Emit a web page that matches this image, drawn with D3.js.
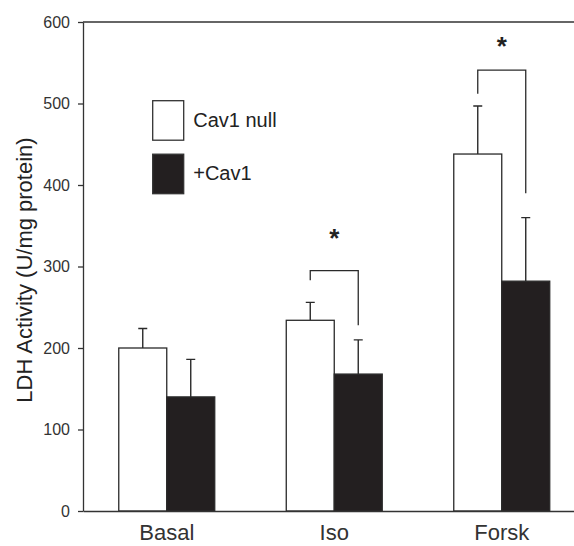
<!DOCTYPE html>
<html>
<head>
<meta charset="utf-8">
<script src="https://cdn.jsdelivr.net/npm/d3@7"></script>
<style>
	body { margin: 0; background: #fff; }
	svg { display: block; font-family: "Liberation Sans", Arial, sans-serif; }
	.axis path, .axis line { stroke: #333; stroke-width: 1.3; }
	.axis text { fill: #333; }
</style>
</head>
<body>
<div id="chart"></div>
<script>
// chart values
const categories = ["Basal", "Iso", "Forsk"];
const seriesNames = ["Cav1 null", "+Cav1"];
const nullMeans = [200, 234, 438];
const nullErrors = [24, 22, 59];
const cavMeans = [140, 168, 282];
const cavErrors = [46, 42, 78];
const yTicks = [0, 100, 200, 300, 400, 500, 600];

// significance brackets (values in U/mg protein)
const sigCategories = ["Iso", "Forsk"];
const bracketTop = [295, 541];
const bracketLeftEnd = [283, 512];
const bracketRightEnd = [228, 390];
const starLevel = [324, 559];

class LdhBars {
	constructor(parentElement) {
		this.parentElement = parentElement;
		this.initVis();
	}

	initVis() {
		let vis = this;

		vis.margin = {top: 22, right: 0, bottom: 35, left: 83};
		vis.svgWidth = 574;
		vis.svgHeight = 546;
		vis.height = vis.svgHeight - vis.margin.top - vis.margin.bottom;
		vis.width = 502.5;

		vis.svg = d3.select("#" + vis.parentElement).append("svg")
			.attr("width", vis.svgWidth)
			.attr("height", vis.svgHeight)
			.append("g")
			.attr("transform", "translate(" + vis.margin.left + "," + vis.margin.top + ")");

		// scales
		vis.x = d3.scaleBand()
			.domain(categories)
			.range([0, vis.width])
			.paddingInner(0.427)
			.paddingOuter(0.2135);
		vis.xInner = d3.scaleBand()
			.domain(seriesNames)
			.range([0, vis.x.bandwidth()]);
		vis.y = d3.scaleLinear()
			.domain([0, 600])
			.range([vis.height, 0]);

		vis.updateVis();
	}

	updateVis() {
		let vis = this;

		let rows = categories.map((c, i) => ({
			cat: c,
			bars: [
				{name: seriesNames[0], mean: nullMeans[i], err: nullErrors[i], fill: "#fff"},
				{name: seriesNames[1], mean: cavMeans[i], err: cavErrors[i], fill: "#231f20"}
			]
		}));

		// top frame line
		vis.svg.append("line")
			.attr("x1", 0).attr("x2", vis.width)
			.attr("y1", vis.y(600)).attr("y2", vis.y(600))
			.attr("stroke", "#333").attr("stroke-width", 1.3);

		// groups
		let groups = vis.svg.selectAll(".grp")
			.data(rows)
			.enter().append("g")
			.attr("class", "grp")
			.attr("transform", d => "translate(" + vis.x(d.cat) + ",0)");

		let capW = 9;

		// error bars (upper only), drawn below bars
		groups.selectAll(".err")
			.data(d => d.bars)
			.enter().append("path")
			.attr("class", "err")
			.attr("fill", "none")
			.attr("stroke", "#2a2a2a")
			.attr("stroke-width", 1.4)
			.attr("d", d => {
				let cx = vis.xInner(d.name) + vis.xInner.bandwidth() / 2;
				let y0 = vis.y(d.mean), y1 = vis.y(d.mean + d.err);
				return "M" + cx + "," + y0 + "V" + y1 + "M" + (cx - capW / 2) + "," + y1 + "H" + (cx + capW / 2);
			});

		groups.selectAll(".bar")
			.data(d => d.bars)
			.enter().append("rect")
			.attr("class", "bar")
			.attr("x", d => vis.xInner(d.name))
			.attr("width", vis.xInner.bandwidth())
			.attr("y", d => vis.y(d.mean))
			.attr("height", d => vis.height - vis.y(d.mean))
			.attr("fill", d => d.fill)
			.attr("stroke", "#2a2a2a")
			.attr("stroke-width", 1.3);

		// brackets and stars
		sigCategories.forEach(function (c, i) {
			let xl = vis.x(c) + vis.xInner(seriesNames[0]) + vis.xInner.bandwidth() / 2;
			let xr = vis.x(c) + vis.xInner(seriesNames[1]) + vis.xInner.bandwidth() / 2;
			vis.svg.append("path")
				.attr("fill", "none")
				.attr("stroke", "#2a2a2a")
				.attr("stroke-width", 1.3)
				.attr("d", "M" + xl + "," + vis.y(bracketLeftEnd[i]) + "V" + vis.y(bracketTop[i]) +
					"H" + xr + "V" + vis.y(bracketRightEnd[i]));
			vis.svg.append("text")
				.attr("x", (xl + xr) / 2)
				.attr("y", vis.y(starLevel[i]))
				.attr("text-anchor", "middle")
				.attr("font-size", 26)
				.attr("font-weight", "bold")
				.attr("fill", "#222")
				.text("*");
		});

		// axes
		vis.yAxis = d3.axisLeft(vis.y)
			.tickValues(yTicks)
			.tickSize(5)
			.tickSizeOuter(0)
			.tickPadding(8);
		vis.svg.append("g")
			.attr("class", "y-axis axis")
			.call(vis.yAxis)
			.selectAll("text")
			.attr("font-size", 16);

		vis.xAxis = d3.axisBottom(vis.x)
			.tickSize(0)
			.tickPadding(13);
		vis.svg.append("g")
			.attr("class", "x-axis axis")
			.attr("transform", "translate(0," + vis.height + ")")
			.call(vis.xAxis)
			.selectAll("text")
			.attr("font-size", 22);

		vis.svg.select(".y-axis .domain").raise();

		// y axis title
		vis.svg.append("text")
			.attr("transform", "translate(" + (32 - vis.margin.left) + "," + (270 - vis.margin.top) + ") rotate(-90)")
			.attr("text-anchor", "middle")
			.attr("font-size", 22)
			.attr("fill", "#222")
			.text("LDH Activity (U/mg protein)");

		// legend
		let legend = vis.svg.selectAll(".legend")
			.data(seriesNames)
			.enter().append("g")
			.attr("class", "legend")
			.attr("transform", (d, i) => "translate(" + (152.7 - vis.margin.left) + "," + (100.7 - vis.margin.top + i * 53.5) + ")");
		legend.append("rect")
			.attr("width", 31)
			.attr("height", 39.5)
			.attr("fill", (d, i) => i === 0 ? "#fff" : "#231f20")
			.attr("stroke", "#333")
			.attr("stroke-width", 1.3);
		legend.append("text")
			.attr("x", 40.5)
			.attr("y", 26)
			.attr("font-size", 20)
			.attr("fill", "#222")
			.text(d => d);
	}
}

new LdhBars("chart");
</script>
</body>
</html>
